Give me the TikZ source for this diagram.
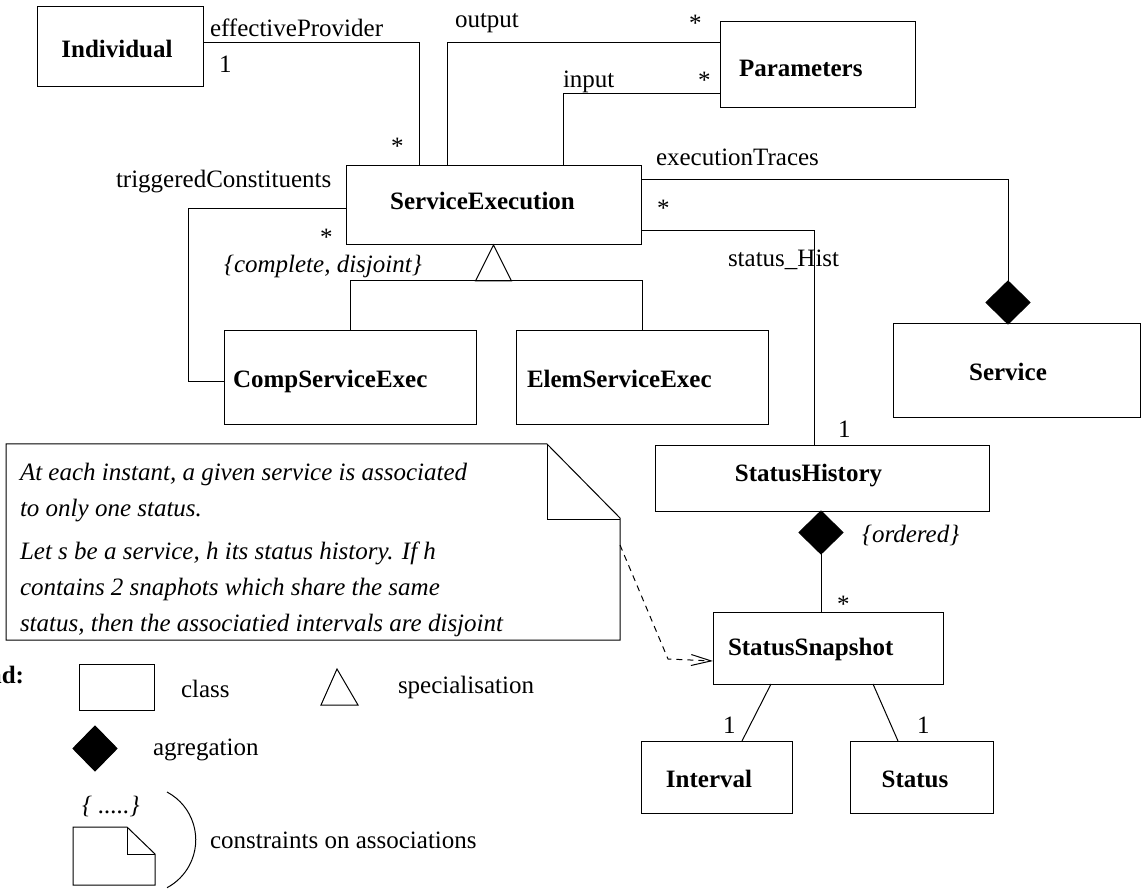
\documentclass[tikz,border=0pt]{standalone}
\usepackage{fontspec}
\setmainfont{Liberation Serif}
\usetikzlibrary{shapes.geometric,arrows.meta}
\begin{document}
\begin{tikzpicture}[x=1pt,y=-1pt,
  every node/.style={inner sep=0pt, outer sep=0pt},
  cls/.style={draw, line width=1pt, rectangle},
  cname/.style={anchor=base, font=\fontsize{25}{30}\selectfont\bfseries},
  txt/.style={anchor=base west, font=\fontsize{25}{30}\selectfont},
  itxt/.style={anchor=base west, font=\fontsize{25}{30}\selectfont\itshape},
  conn/.style={line width=1pt},
  agg/.style={diamond, draw, fill=black, line width=1pt, minimum width=44pt, minimum height=43pt},
]
% canvas
\fill[white] (0,0) rectangle (1141,890);
\useasboundingbox (0,0) rectangle (1141,890);

% ---- classes ----
\node[cls, minimum width=166pt, minimum height=80pt] (ind) at (120,47) {};
\node[cls, minimum width=295pt, minimum height=79pt] (se) at (493.5,205.5) {};
\node[cls, minimum width=195pt, minimum height=86pt] (par) at (817.5,65) {};
\node[cls, minimum width=252pt, minimum height=94pt] (cse) at (350,378) {};
\node[cls, minimum width=252pt, minimum height=94pt] (ese) at (642,378) {};
\node[cls, minimum width=247pt, minimum height=94pt] (svc) at (1016.5,371) {};
\node[cls, minimum width=334pt, minimum height=65pt] (sh) at (822,478.5) {};
\node[cls, minimum width=230pt, minimum height=72pt] (ss) at (828,648) {};
\node[cls, minimum width=151pt, minimum height=72pt] (iv) at (716.5,777) {};
\node[cls, minimum width=143pt, minimum height=72pt] (st) at (921.5,777) {};

% class names
\node[cname] (indname) at (117,58) {Individual};
\node[cname] (sename) at (482.5,210) {ServiceExecution};
\node[cname, anchor=base west] (parname) at (739,77) {Parameters};
\node[cname, anchor=base west] (csename) at (233,388) {CompServiceExec};
\node[cname, anchor=base west] (esename) at (527,388) {ElemServiceExec};
\node[cname] (svcname) at (1008,381) {Service};
\node[cname] (shname) at (808.5,482) {StatusHistory};
\node[cname, anchor=base west] (ssname) at (728,655) {StatusSnapshot};
\node[cname] (ivname) at (709,787) {Interval};
\node[cname] (stname) at (915,787) {Status};

% ---- aggregation diamonds ----
\node[agg] (dsvc) at (1008,302.5) {};
\node[agg] (dsh) at (821,532.5) {};

% ---- associations ----
\draw[conn] (ind.east |- 0,43) -| (419,0 |- se.north);
\draw[conn] (447,0 |- se.north) |- (par.west |- 0,43);
\draw[conn] (563,0 |- se.north) |- (par.west |- 0,94);
\draw[conn] (se.east |- 0,180) -| (dsvc.north);
\draw[conn] (se.east |- 0,231) -| (814,0 |- sh.north);
\draw[conn] (se.west |- 0,209) -- (188,209) |- (cse.west |- 0,382);
\draw[conn] (dsh.south) -- (dsh.south |- ss.north);
\draw[conn] (771,0 |- ss.south) -- (742,0 |- iv.north);
\draw[conn] (873,0 |- ss.south) -- (898,0 |- st.north);

% ---- specialisation ----
\draw[conn] (se.south) -- ++(18,36) -- ++(-36,0) -- cycle;
\coordinate (gbase) at (494,281);
\draw[conn] (cse.north) -- (cse.north |- gbase) -- (ese.north |- gbase) -- (ese.north);

% ---- role names and multiplicities ----
\node[txt] (lEP) at (210,37) {effectiveProvider};
\node[txt] (m1) at (219,73) {1};
\node[txt] (m2) at (391,155) {*};
\node[txt] (lOut) at (455,28) {output};
\node[txt] (m3) at (689,32) {*};
\node[txt] (lIn) at (563,88) {input};
\node[txt] (m4) at (698,89) {*};
\node[txt] (lET) at (656,166) {executionTraces};
\node[txt] (m5) at (657,217) {*};
\node[txt] (lTC) at (116,188) {triggeredConstituents};
\node[txt] (m6) at (320,246) {*};
\node[itxt] (lCD) at (224,273) {\{complete, disjoint\}};
\node[txt] (lSH) at (728,267) {status\_Hist};
\node[txt] (m7) at (838,438) {1};
\node[itxt] (lOrd) at (862,542) {\{ordered\}};
\node[txt] (m8) at (837,612) {*};
\node[txt] (m9) at (723,733) {1};
\node[txt] (m10) at (917,733) {1};

% ---- constraint note ----
\node[minimum width=614pt, minimum height=196pt] (note) at (313,542) {};
\draw[conn] (note.north west) -- (547,444) -- (620,518) -- (note.south east) -- (note.south west) -- cycle;
\draw[conn] (547,444) -- (547,519) -- (620,519);
\node[itxt] (n1) at (20,480) {At each instant, a given service is associated};
\node[itxt] (n2) at (20,516) {to only one status.};
\node[itxt] (n3) at (20,559) {Let s be a service, h its status history. If h};
\node[itxt] (n4) at (20,595) {contains 2 snaphots which share the same};
\node[itxt] (n5) at (20,631) {status, then the associatied intervals are disjoint};
\draw[conn, dash pattern=on 6pt off 5pt, -{Straight Barb[length=20pt,width=11pt]}]
  ([yshift=-3pt]note.east) -- (668,659) -- (ss.west |- 0,661);

% ---- legend ----
\node[anchor=base east, font=\fontsize{25}{30}\selectfont\bfseries] (lg) at (24,683) {Legend:};
\node[cls, minimum width=75pt, minimum height=46pt] (lgclass) at (116.5,687) {};
\node[txt] (lgclasst) at (181,697) {class};
\draw[conn] (337,669) -- (358,705) -- (321,705) -- cycle;
\node[txt] (lgspec) at (398,693) {specialisation};
\node[agg, minimum height=45pt] (lgagg) at (95,748.5) {};
\node[txt] (lgaggt) at (153,755) {agregation};
\node[itxt] (lgbr) at (82,813) {\{ .....\}};
\node[minimum width=82pt, minimum height=58pt] (lgnote) at (114,856) {};
\draw[conn] (lgnote.north west) -- (127,827) -- (155,854) -- (lgnote.south east) -- (lgnote.south west) -- cycle;
\draw[conn] (127,827) -- (127,854) -- (155,854);
\draw[conn] (167,792) arc[start angle=-62, end angle=62, radius=54.2];
\node[txt] (lgcons) at (210,848) {constraints on associations};
\end{tikzpicture}
\end{document}
